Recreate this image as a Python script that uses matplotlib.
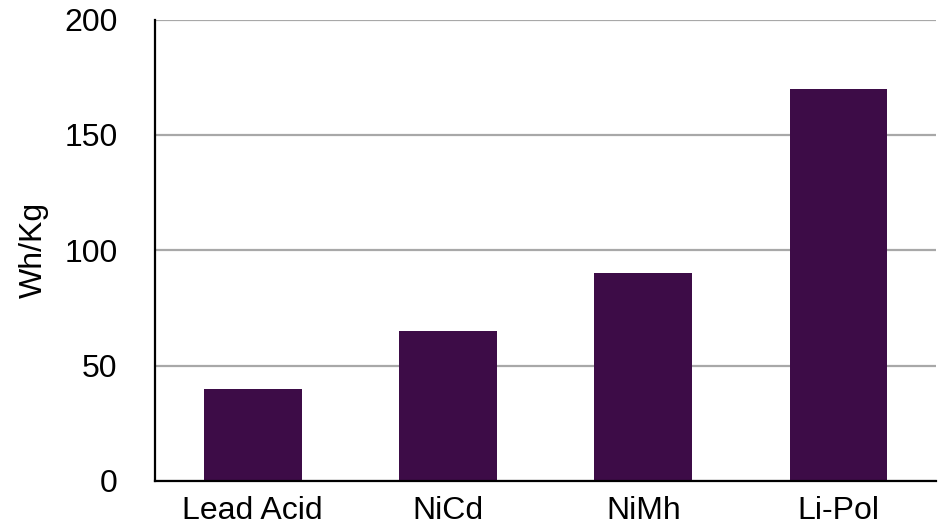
import matplotlib.pyplot as plt

plt.rcParams["font.family"] = ["Liberation Sans", "DejaVu Sans"]

batteries = ["Lead Acid", "NiCd", "NiMh", "Li-Pol"]
energy_density = [40, 65, 90, 170]
y_ticks = [0, 50, 100, 150, 200]

fig = plt.figure(figsize=(9.4, 5.26), dpi=100)
ax = fig.add_axes([0.165, 0.0856, 0.831, 0.877])

ax.bar(range(len(batteries)), energy_density, width=0.5, color="#3D0C47", zorder=3)

ax.set_xlim(-0.5, 3.5)
ax.set_ylim(0, 200)
ax.set_yticks(y_ticks)
ax.set_xticks(range(len(batteries)))
ax.set_xticklabels(batteries)

ax.yaxis.grid(True, color="#a8a8a8", linewidth=1.6, zorder=0)
ax.set_axisbelow(True)
for side in ["top", "right"]:
    ax.spines[side].set_visible(False)
for side in ["left", "bottom"]:
    ax.spines[side].set_linewidth(1.6)
    ax.spines[side].set_zorder(4)

ax.tick_params(axis="y", length=0, pad=27, labelsize=23)
ax.tick_params(axis="x", length=0, pad=11, labelsize=23)
ax.set_ylabel("Wh/Kg", fontsize=23, labelpad=11)

plt.savefig("out.png", dpi=100)
